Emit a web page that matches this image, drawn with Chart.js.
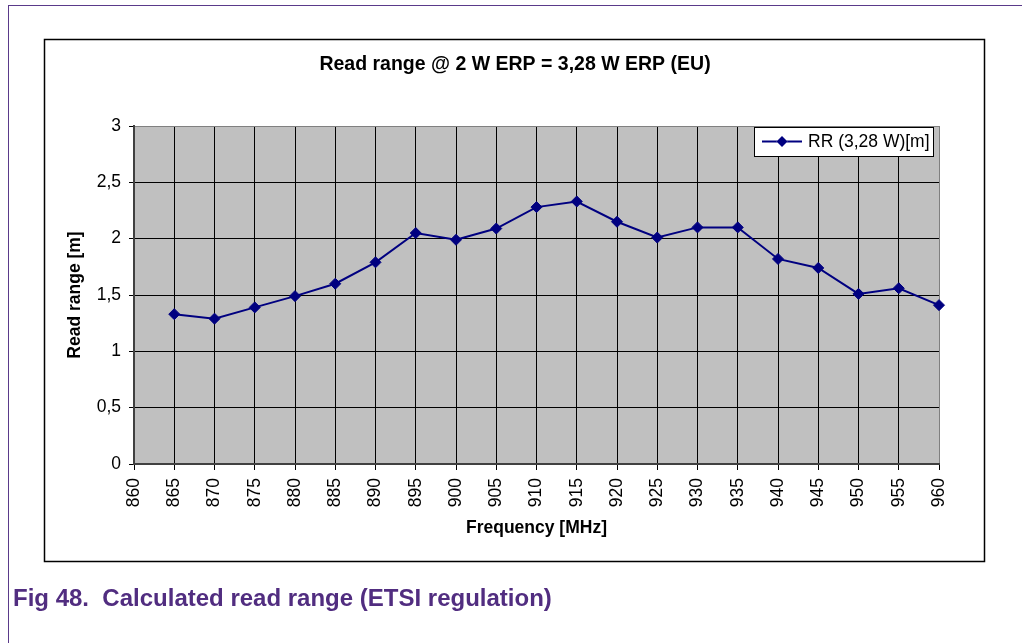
<!DOCTYPE html>
<html>
<head>
<meta charset="utf-8">
<title>Read range (ETSI)</title>
<script src="https://cdn.jsdelivr.net/npm/chart.js@4.4.0/dist/chart.umd.min.js"></script>
<style>
  html, body { margin: 0; padding: 0; background: #fff; }
  body { width: 1022px; height: 643px; position: relative; overflow: hidden; font-family: "Liberation Sans", Arial, sans-serif; }
  #frame-top { position: absolute; left: 8px; top: 5px; right: 0; height: 0; border-top: 1.5px solid #5a3a8a; }
  #frame-left { position: absolute; left: 8px; top: 5px; bottom: 0; width: 0; border-left: 1.5px solid #5a3a8a; }
  #chart { position: absolute; left: 0; top: 0; }
  #caption { position: absolute; left: 13px; top: 584px; font-size: 24px; font-weight: bold; color: #512d80; white-space: pre; }
</style>
</head>
<body>
<div id="frame-top"></div>
<div id="frame-left"></div>
<canvas id="chart" width="1022" height="643"></canvas>
<div id="caption">Fig 48.  Calculated read range (ETSI regulation)</div>
<script>
const frequencies = [865, 870, 875, 880, 885, 890, 895, 900, 905, 910,
                     915, 920, 925, 930, 935, 940, 945, 950, 955, 960];
const readRange = [1.33, 1.29, 1.39, 1.49, 1.60, 1.79, 2.05, 1.99, 2.09, 2.28,
                   2.33, 2.15, 2.01, 2.10, 2.10, 1.82, 1.74, 1.51, 1.56, 1.41];
const xTickValues = [860, 865, 870, 875, 880, 885, 890, 895, 900, 905, 910,
                     915, 920, 925, 930, 935, 940, 945, 950, 955, 960];
const yTickValues = [0, 0.5, 1, 1.5, 2, 2.5, 3];

const seriesLabel = "RR (3,28 W)[m]";
const chartTitle = "Read range @ 2 W ERP = 3,28 W ERP (EU)";

const NAVY = "#000080";
const FONT = "'Liberation Sans', Arial, sans-serif";

Chart.defaults.font.family = FONT;
Chart.defaults.color = "#000";

function commaDecimal(v) {
  return String(v).replace(".", ",");
}

// white chart frame, grey plot background and the chart title
const framePlugin = {
  id: "frame",
  beforeDraw(chart) {
    const { ctx, chartArea: a } = chart;
    ctx.save();
    ctx.fillStyle = "#fff";
    ctx.fillRect(44, 39, 941, 522);
    ctx.strokeStyle = "#000";
    ctx.lineWidth = 1.5;
    ctx.strokeRect(44.5, 39.5, 940, 522);

    ctx.fillStyle = "#c0c0c0";
    ctx.fillRect(a.left, a.top, a.right - a.left, a.bottom - a.top);

    ctx.fillStyle = "#000";
    ctx.font = "bold 19.5px " + FONT;
    ctx.textAlign = "center";
    ctx.textBaseline = "alphabetic";
    ctx.fillText(chartTitle, 515, 70);
    ctx.restore();
  }
};

// boxed legend in the top right corner of the plot area
const legendPlugin = {
  id: "boxLegend",
  afterDraw(chart) {
    const { ctx, chartArea: a } = chart;
    const ds = chart.data.datasets[0];
    const w = 179, h = 29;
    const x = a.right - 6 - w;
    const y = a.top + 1;
    const cy = y + h / 2;

    ctx.save();
    ctx.fillStyle = "#fff";
    ctx.fillRect(x, y, w, h);
    ctx.strokeStyle = "#000";
    ctx.lineWidth = 1;
    ctx.strokeRect(x + 0.5, y + 0.5, w, h);

    ctx.strokeStyle = ds.borderColor;
    ctx.lineWidth = 2;
    ctx.beginPath();
    ctx.moveTo(x + 8, cy);
    ctx.lineTo(x + 48, cy);
    ctx.stroke();
    Chart.helpers.drawPoint(ctx, { pointStyle: "rectRot", radius: 5.5, borderWidth: 0 }, x + 28, cy);
    ctx.fillStyle = ds.borderColor;
    ctx.fill();

    ctx.fillStyle = "#000";
    ctx.font = "17.5px " + FONT;
    ctx.textAlign = "left";
    ctx.textBaseline = "middle";
    ctx.fillText(ds.label, x + 54, cy + 1);
    ctx.restore();
  }
};

new Chart(document.getElementById("chart"), {
  type: "line",
  data: {
    datasets: [{
      label: seriesLabel,
      data: frequencies.map((f, i) => ({ x: f, y: readRange[i] })),
      borderColor: NAVY,
      backgroundColor: NAVY,
      pointBorderColor: NAVY,
      borderWidth: 2,
      pointStyle: "rectRot",
      pointRadius: 5.5,
      pointBorderWidth: 1,
      tension: 0,
      clip: false
    }]
  },
  options: {
    responsive: false,
    animation: false,
    devicePixelRatio: 1,
    layout: { padding: { left: 60.5, top: 126, right: 83, bottom: 100.5 } },
    plugins: {
      legend: { display: false },
      title: { display: false },
      tooltip: { enabled: false }
    },
    scales: {
      x: {
        type: "linear",
        min: 860,
        max: 960,
        afterBuildTicks: (s) => { s.ticks = xTickValues.map((v) => ({ value: v })); },
        afterFit: (s) => { s.height = 78.5; },
        ticks: { autoSkip: false, minRotation: 90, maxRotation: 90, padding: 8, font: { size: 17.5 } },
        grid: {
          color: (c) => (c.tick && c.tick.value === 960 ? "#808080" : "#000"),
          tickColor: "#000",
          tickLength: 6
        },
        border: { color: "#404040", width: 2 },
        title: {
          display: true,
          text: "Frequency [MHz]",
          font: { size: 17.5, weight: "bold" },
          padding: { top: 4, bottom: 4 }
        }
      },
      y: {
        min: 0,
        max: 3,
        afterBuildTicks: (s) => { s.ticks = yTickValues.map((v) => ({ value: v })); },
        afterFit: (s) => { s.width = 73.5; },
        ticks: { padding: 8, font: { size: 17.5 }, callback: (v) => commaDecimal(v) },
        grid: {
          color: (c) => (c.tick && c.tick.value === 3 ? "#808080" : "#000"),
          tickColor: "#000",
          tickLength: 5
        },
        border: { color: "#404040", width: 2 },
        title: {
          display: true,
          text: "Read range [m]",
          font: { size: 17.5, weight: "bold" },
          padding: { top: 4, bottom: 4 }
        }
      }
    }
  },
  plugins: [framePlugin, legendPlugin]
});
</script>
</body>
</html>
